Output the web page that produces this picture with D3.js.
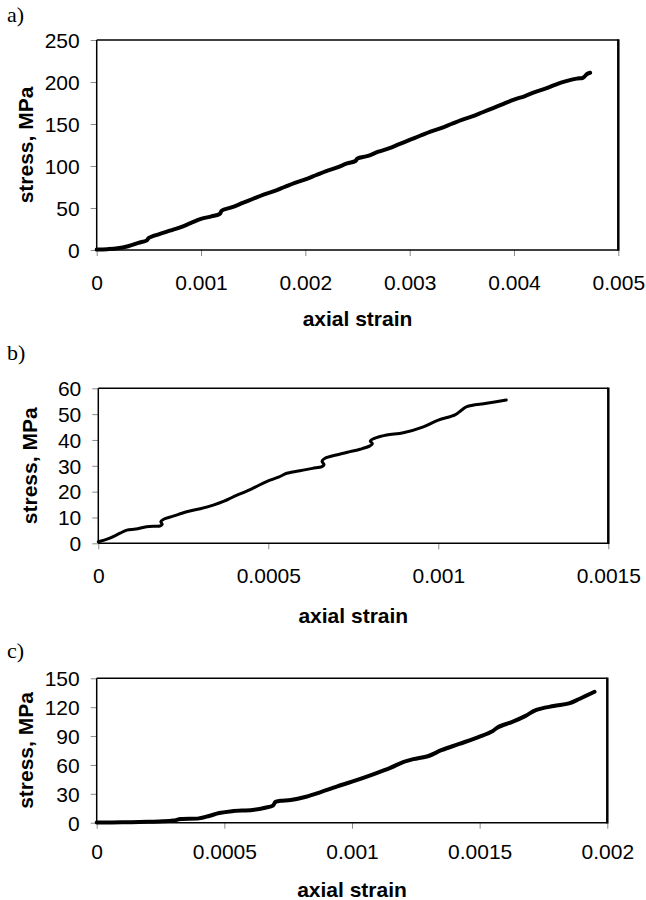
<!DOCTYPE html>
<html>
<head>
<meta charset="utf-8">
<script src="https://cdn.jsdelivr.net/npm/d3@7/dist/d3.min.js"></script>
<style>
  html, body { margin: 0; padding: 0; background: #fff; }
  svg { display: block; }
</style>
</head>
<body>
<svg id="chart" width="646" height="900"></svg>
<script>
// ---------------- DATA ----------------
const panelLabels = ["a)", "b)", "c)"];
const xTitle = "axial strain";
const yTitle = "stress, MPa";

// Panel a
const strainA = [0, 0.0001, 0.0002, 0.0003, 0.0004, 0.00048, 0.0005, 0.0006, 0.0007, 0.0008, 0.0009, 0.001, 0.0011, 0.00118, 0.0012, 0.0013, 0.0014, 0.0015, 0.0016, 0.0017, 0.0018, 0.0019, 0.002, 0.0021, 0.0022, 0.0023, 0.0024, 0.00248, 0.0025, 0.0026, 0.0027, 0.0028, 0.0029, 0.003, 0.0031, 0.0032, 0.0033, 0.0034, 0.0035, 0.0036, 0.0037, 0.0038, 0.0039, 0.004, 0.0041, 0.0042, 0.0043, 0.0044, 0.0045, 0.0046, 0.00466, 0.00468, 0.0047, 0.00473];
const stressA = [0.5, 1, 2, 4.5, 8.5, 11.5, 14.5, 19, 23, 27, 32, 37, 40, 43, 47, 51, 56, 61, 66, 70, 75, 80, 84, 89, 94, 98, 103, 106, 109, 112, 117, 121, 126, 131, 136, 141, 145, 150, 155, 159, 164, 169, 174, 179, 183, 188, 192, 197, 201, 204, 205, 207, 209.5, 211];
const xTicksA = [0, 0.001, 0.002, 0.003, 0.004, 0.005];
const xTickLabelsA = ["0", "0.001", "0.002", "0.003", "0.004", "0.005"];
const yTicksA = [0, 50, 100, 150, 200, 250];

// Panel b
const strainB = [0, 0.00003, 0.000064, 0.000084, 0.00011, 0.000142, 0.00017, 0.000181, 0.000188, 0.000184, 0.000192, 0.00022, 0.00026, 0.0003, 0.000338, 0.00037, 0.000397, 0.00045, 0.000495, 0.00053, 0.000554, 0.000593, 0.00063, 0.000658, 0.000664, 0.000658, 0.000667, 0.0007, 0.00074, 0.00077, 0.000799, 0.000806, 0.0008, 0.000812, 0.000848, 0.000897, 0.000956, 0.001, 0.001049, 0.001068, 0.001084, 0.001142, 0.0012];
const stressB = [0.6, 1.8, 3.9, 5.1, 5.5, 6.4, 6.6, 6.7, 7.3, 8.4, 9.3, 10.5, 12.2, 13.4, 14.8, 16.3, 18, 21, 23.9, 25.6, 27.1, 28.1, 29, 29.7, 30.5, 31.8, 32.9, 34.2, 35.5, 36.4, 37.7, 38.5, 39.6, 40.6, 41.9, 42.8, 45.1, 47.7, 49.7, 51.5, 52.9, 54.2, 55.5];
const xTicksB = [0, 0.0005, 0.001, 0.0015];
const xTickLabelsB = ["0", "0.0005", "0.001", "0.0015"];
const yTicksB = [0, 10, 20, 30, 40, 50, 60];

// Panel c
const strainC = [0, 0.0001, 0.0002, 0.00026, 0.0003, 0.00033, 0.0004, 0.00044, 0.00048, 0.00053, 0.00061, 0.00066, 0.00069, 0.0007, 0.00072, 0.00076, 0.00082, 0.00088, 0.00094, 0.001, 0.00108, 0.00115, 0.0012, 0.00124, 0.0013, 0.00135, 0.00142, 0.0015, 0.00155, 0.00157, 0.00163, 0.00168, 0.00172, 0.00179, 0.00185, 0.00189, 0.00195];
const stressC = [0.3, 0.4, 1, 1.4, 2.2, 3.8, 4.5, 7, 10, 12, 13.2, 15.5, 17.7, 21.5, 22.8, 23.6, 27, 32, 37.5, 42.6, 50, 57, 63, 66, 69.3, 75.3, 81.8, 89.4, 95, 99, 105, 111, 117, 121.2, 124, 128.5, 136];
const xTicksC = [0, 0.0005, 0.001, 0.0015, 0.002];
const xTickLabelsC = ["0", "0.0005", "0.001", "0.0015", "0.002"];
const yTicksC = [0, 30, 60, 90, 120, 150];

// ---------------- LAYOUT ----------------
const panels = [
  { label: panelLabels[0], strain: strainA, stress: stressA, xTicks: xTicksA, xLabels: xTickLabelsA, yTicks: yTicksA,
    xDom: [0, 0.005], yDom: [0, 250], left: 96.7, right: 618.3, top: 40, bottom: 250,
    labelY: 22, tickBase: 40, titleBase: 326, yTitleX: 33, lw: 4 },
  { label: panelLabels[1], strain: strainB, stress: stressB, xTicks: xTicksB, xLabels: xTickLabelsB, yTicks: yTicksB,
    xDom: [0, 0.0015], yDom: [0, 60], left: 98.3, right: 608.3, top: 388.3, bottom: 543.3,
    labelY: 360, tickBase: 40, titleBase: 623, yTitleX: 37, lw: 3 },
  { label: panelLabels[2], strain: strainC, stress: stressC, xTicks: xTicksC, xLabels: xTickLabelsC, yTicks: yTicksC,
    xDom: [0, 0.002], yDom: [0, 150], left: 96.7, right: 607.3, top: 678.3, bottom: 822.7,
    labelY: 658, tickBase: 36, titleBase: 897, yTitleX: 33, lw: 4 }
];

const svg = d3.select("#chart");
const sans = "'Liberation Sans', Arial, sans-serif";
const serif = "'Liberation Serif', 'Times New Roman', serif";
const fs = 21;

panels.forEach(p => {
  const x = d3.scaleLinear().domain(p.xDom).range([p.left, p.right]);
  const y = d3.scaleLinear().domain(p.yDom).range([p.bottom, p.top]);
  const g = svg.append("g");

  // panel label
  g.append("text").attr("x", 7).attr("y", p.labelY)
    .attr("font-family", serif).attr("font-size", 22).attr("fill", "#000")
    .text(p.label);

  // x axis
  const xa = g.append("g").attr("transform", `translate(0,${p.bottom})`)
    .call(d3.axisBottom(x).tickValues(p.xTicks).tickSize(6)
      .tickFormat((d, i) => p.xLabels[i]));
  xa.select(".domain").remove();
  xa.selectAll(".tick line").attr("stroke", "#8a8a8a").attr("stroke-width", 1);
  xa.selectAll(".tick text").attr("y", p.tickBase).attr("dy", 0)
    .attr("font-family", sans).attr("font-size", fs).attr("fill", "#000");

  // y axis
  const ya = g.append("g").attr("transform", `translate(${p.left},0)`)
    .call(d3.axisLeft(y).tickValues(p.yTicks).tickSize(6).tickPadding(11));
  ya.select(".domain").remove();
  ya.selectAll(".tick line").attr("stroke", "#8a8a8a").attr("stroke-width", 1);
  ya.selectAll(".tick text").attr("dy", "0.35em")
    .attr("font-family", sans).attr("font-size", fs).attr("fill", "#000");

  // frame
  g.append("line").attr("x1", p.left).attr("x2", p.right).attr("y1", p.top).attr("y2", p.top)
    .attr("stroke", "#000").attr("stroke-width", 1.5);
  g.append("line").attr("x1", p.left).attr("x2", p.right).attr("y1", p.bottom).attr("y2", p.bottom)
    .attr("stroke", "#000").attr("stroke-width", 1.5);
  g.append("line").attr("x1", p.left).attr("x2", p.left).attr("y1", p.top).attr("y2", p.bottom)
    .attr("stroke", "#000").attr("stroke-width", 1.5);
  g.append("line").attr("x1", p.right).attr("x2", p.right).attr("y1", p.top - 0.75).attr("y2", p.bottom + 0.75)
    .attr("stroke", "#000").attr("stroke-width", 2.5);

  // curve
  const pts = p.strain.map((s, i) => [s, p.stress[i]]);
  g.append("path").datum(pts)
    .attr("fill", "none").attr("stroke", "#000").attr("stroke-width", p.lw)
    .attr("stroke-linejoin", "round").attr("stroke-linecap", "round")
    .attr("d", d3.line().x(d => x(d[0])).y(d => y(d[1])).curve(d3.curveCatmullRom.alpha(0.5)));

  // axis titles
  g.append("text").attr("x", (p.left + p.right) / 2).attr("y", p.titleBase)
    .attr("text-anchor", "middle").attr("font-family", sans).attr("font-weight", "bold")
    .attr("font-size", fs).attr("fill", "#000").text(xTitle);
  g.append("text")
    .attr("transform", `translate(${p.yTitleX},${(p.top + p.bottom) / 2}) rotate(-90)`)
    .attr("text-anchor", "middle").attr("font-family", sans).attr("font-weight", "bold")
    .attr("font-size", fs).attr("fill", "#000").text(yTitle);
});
</script>
</body>
</html>
